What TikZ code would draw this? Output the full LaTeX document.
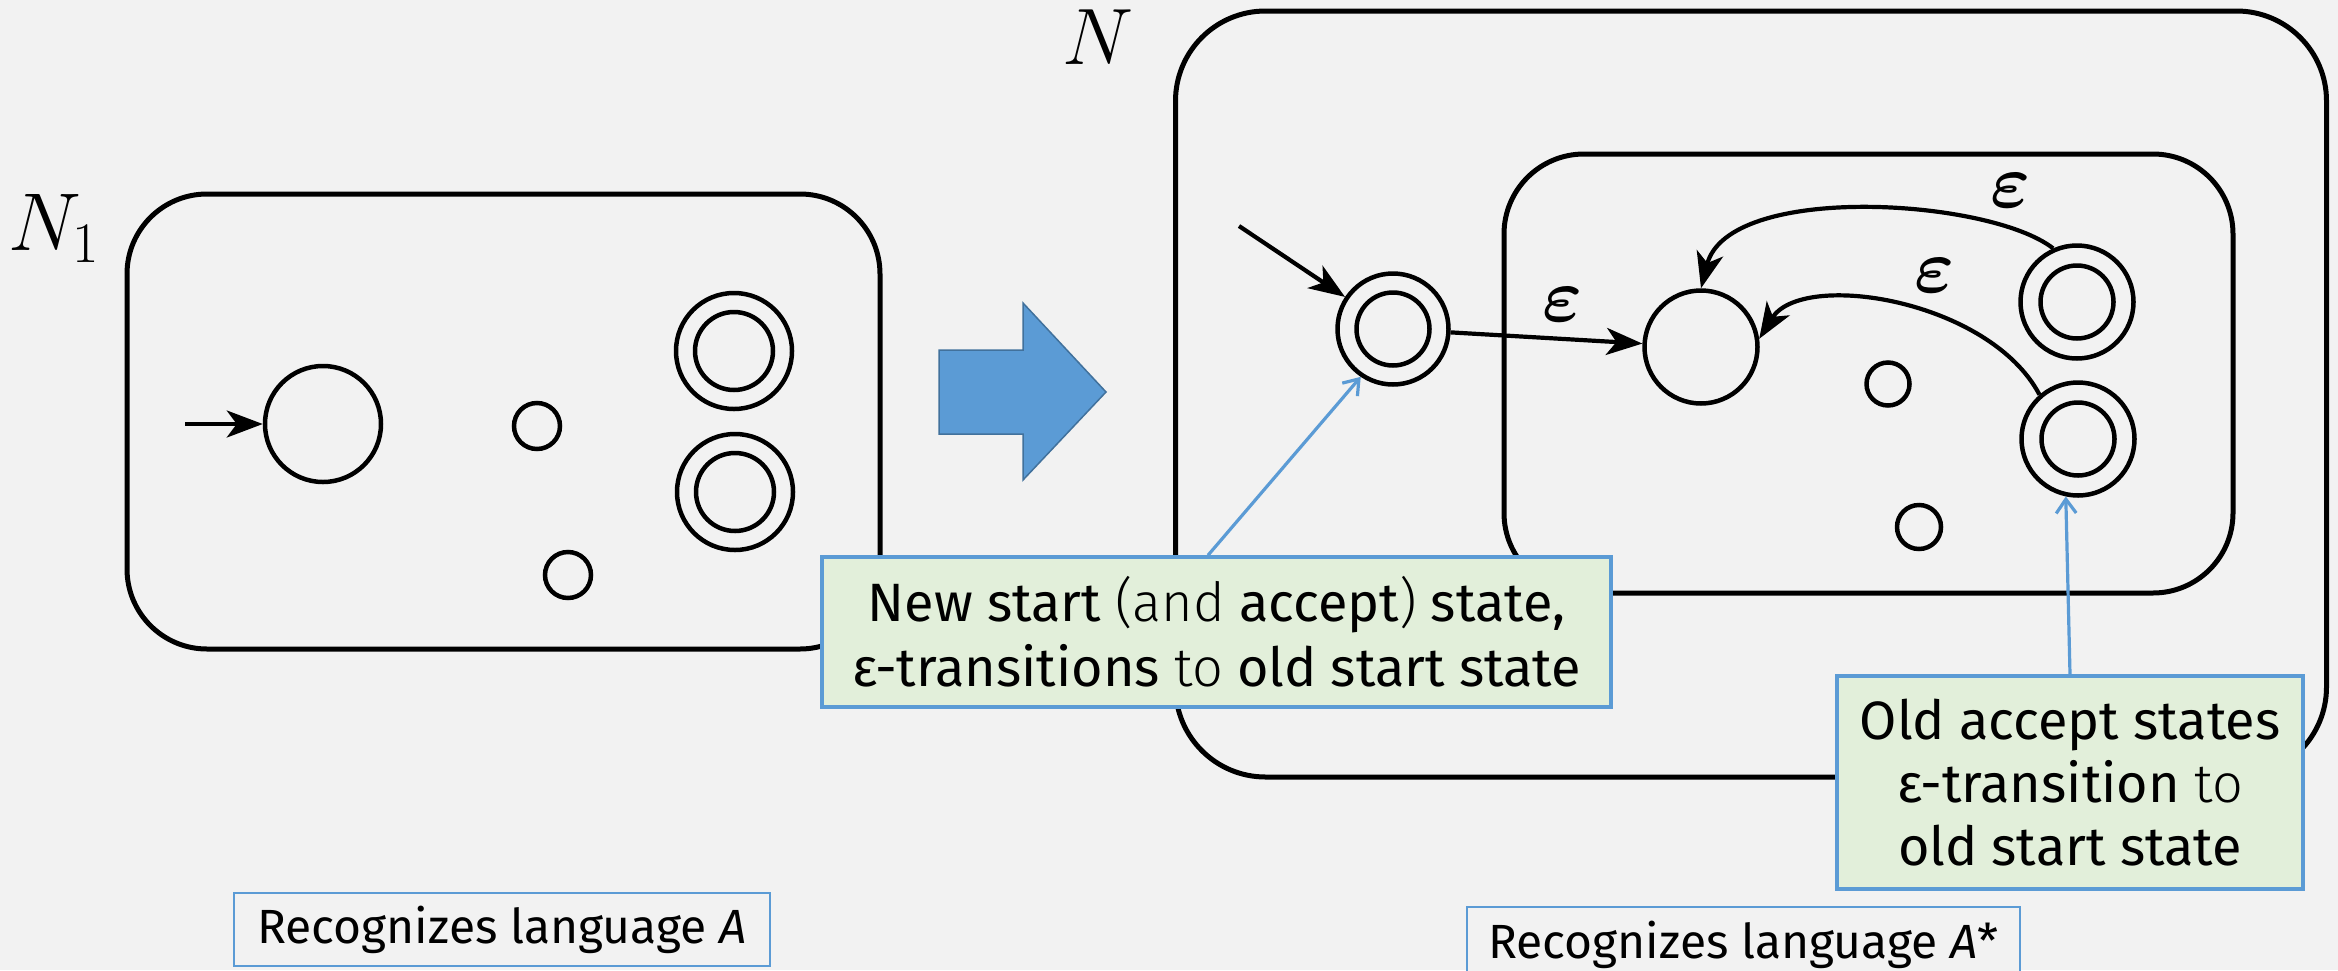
\documentclass[tikz,border=0pt]{standalone}
\usepackage{fix-cm}
\usepackage{bm}
\usepackage[no-math]{fontspec}
\setmainfont{Fira Sans}
\newfontfamily\firalight{Fira Sans Light}
\usetikzlibrary{arrows.meta,calc}
\definecolor{bgc}{HTML}{F2F2F2}
\definecolor{bluec}{HTML}{5B9BD5}
\definecolor{blueb}{HTML}{41719C}
\definecolor{greenc}{HTML}{E2EFDA}
\tikzset{
  nbox/.style={draw, line width=5pt, rounded corners=#1, inner sep=0pt},
  st/.style={draw, circle, line width=4.5pt, inner sep=0pt, minimum size=#1},
  arr/.style={line width=4.2pt, -{Stealth[length=36pt,width=27pt,inset=10pt]}},
  callout/.style={draw=bluec, line width=3.5pt, fill=greenc, align=center, inner sep=0pt, font=\fontsize{54}{65}\selectfont},
  langlab/.style={draw=bluec, line width=2.5pt, fill=bgc, inner sep=0pt, font=\fontsize{48}{56}\selectfont},
  callarr/.style={draw=bluec, line width=3.2pt, -{Straight Barb[length=14pt,width=20pt]}},
  mlab/.style={inner sep=0pt, font=\fontsize{76}{92}\selectfont},
}
\begin{document}
\begin{tikzpicture}[x=1pt,y=-1pt]
\fill[bgc] (0,0) rectangle (2338,970);
\useasboundingbox (0,0) rectangle (2338,970);

% ---- left automaton N1
\node[nbox=80pt, minimum width=753pt, minimum height=455pt] (boxA) at (503.5,421.5) {};
\node[anchor=base west, inner sep=0pt, font=\fontsize{82}{98}\selectfont] (lN1) at (8,250) {$N_1$};
\node[st=116pt] (s1) at (323,424) {};
\coordinate (in1) at (185,424);
\draw[arr] (in1) -- (s1);
\node[st=46pt] (q1) at (537,426) {};
\node[st=46pt] (q2) at (568,575) {};
\node[st=116pt] (f1) at (734,351) {};
\node[st=78pt] (f1i) at (734,351) {};
\node[st=116pt] (f2) at (735,492) {};
\node[st=78pt] (f2i) at (735,492) {};

% ---- block arrow
\draw[fill=bluec, draw=blueb, line width=1.5pt]
  (939,350) -- (1023,350) -- (1023,303) -- (1106,392) -- (1023,480) -- (1023,434) -- (939,434) -- cycle;

% ---- right automaton N
\node[nbox=90pt, minimum width=1151pt, minimum height=766pt] (boxN) at (1751,394) {};
\node[anchor=base west, inner sep=0pt, font=\fontsize{80}{96}\selectfont] (lN) at (1062,64) {$N$};
\node[nbox=80pt, minimum width=729pt, minimum height=439pt] (boxI) at (1868.5,373.5) {};

\node[st=111pt] (newS) at (1393,329) {};
\node[st=73pt] (newSi) at (1393,329) {};
\coordinate (inN) at (1239,226);
\draw[arr] (inN) -- (newS);

\node[st=113pt] (old) at (1701,347) {};
\node[st=113pt] (acc1) at (2077,302) {};
\node[st=73pt] (acc1i) at (2077,302) {};
\node[st=113pt] (acc2) at (2078,439) {};
\node[st=73pt] (acc2i) at (2078,439) {};
\node[st=43pt] (q3) at (1888,384) {};
\node[st=44pt] (q4) at (1919,527) {};

\draw[arr] (newS) -- (old);
\node[mlab] (e1) at (1563,305) {$\bm{\varepsilon}$};
\draw[arr] (acc1.114) .. controls +(-64,-50) and +(27,-106) .. (old.90);
\node[mlab] (e2) at (2011,191) {$\bm{\varepsilon}$};
\draw[arr] (acc2.131) .. controls +(-50,-95) and +(43,-69) .. (old.8);
\node[mlab] (e3) at (1935,276) {$\bm{\varepsilon}$};

% ---- callouts
\node[callout, minimum width=789pt, minimum height=150pt] (c1) at (1216.5,632)
  {New start {\firalight(and} accept{\firalight)} state,\\ ε-transitions {\firalight to} old start state};
\draw[callarr] (c1.north -| 1208,0) -- (newS.236);
\node[callout, minimum width=466pt, minimum height=213pt, font=\fontsize{54}{63}\selectfont] (c2) at (2070,782.5)
  {Old accept states\\ ε-transition {\firalight to}\\ old start state};
\draw[callarr] (c2.north) -- (acc2.258);

% ---- language labels
\node[langlab, minimum width=536pt, minimum height=73pt] (lA) at (502,929.5) {Recognizes language \textit{A}};
\node[langlab, minimum width=553pt, minimum height=76pt] (lAs) at (1743.5,945) {Recognizes language \textit{A}*};
\end{tikzpicture}
\end{document}
